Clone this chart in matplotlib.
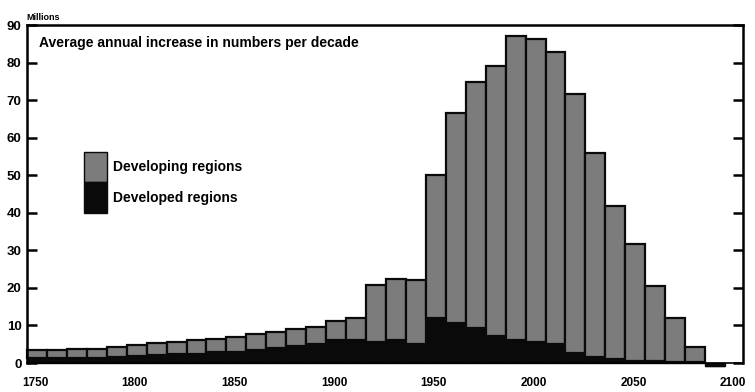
import matplotlib
matplotlib.use("Agg")
import matplotlib.pyplot as plt
import matplotlib.transforms as mtransforms
from matplotlib.patches import Patch
import numpy as np

plt.rcParams['font.family'] = ['Liberation Sans', 'DejaVu Sans']
plt.rcParams['font.weight'] = 'bold'

# decade start years, 1750s ... 2090s
decades = list(range(1750, 2100, 10))

# total average annual increase per decade (millions)
total = [3.5, 3.5, 3.6, 3.8, 4.2, 4.8, 5.3, 5.6, 6.0, 6.3,
         6.9, 7.7, 8.2, 9.0, 9.5, 11.1, 12.0, 20.7, 22.5, 22.0,
         50.1, 66.6, 74.8, 79.0, 87.0, 86.2, 82.8, 71.6, 56.0, 41.9,
         31.8, 20.5, 12.0, 4.3, -0.8]

# developed regions part (black, bottom of each bar)
developed = [1.2, 1.2, 1.3, 1.4, 1.5, 1.8, 2.0, 2.3, 2.5, 2.8,
             3.0, 3.5, 4.0, 4.5, 5.0, 6.0, 6.0, 5.5, 6.0, 5.0,
             12.0, 10.6, 9.3, 7.2, 6.2, 5.5, 5.0, 2.6, 1.6, 1.0,
             0.6, 0.4, 0.3, 0.2, -0.8]

developing = [t - d for t, d in zip(total, developed)]

yticks = [0, 10, 20, 30, 40, 50, 60, 70, 80, 90]
xticks = [1750, 1800, 1850, 1900, 1950, 2000, 2050, 2100]

gray = '#7c7c7c'
black = '#0a0a0a'

fig = plt.figure(figsize=(7.55, 3.92), dpi=100)
ax = fig.add_axes([27 / 755, 1 - 363 / 392, 716 / 755, 338 / 392])

ax.bar(decades, developed, width=10, align='edge', color=black,
       edgecolor=black, linewidth=1.0, clip_on=False, zorder=2)
ax.bar(decades, developing, width=10, align='edge', bottom=developed,
       color=gray, edgecolor=black, linewidth=1.6, clip_on=False, zorder=2)

ax.set_xlim(1750, 2109)
ax.set_ylim(0, 90)

ax.set_yticks(yticks)
ax.set_yticklabels([str(v) for v in yticks], fontsize=9.5, fontweight='bold')
ax.set_xticks(xticks)
ax.set_xticklabels([str(v) for v in xticks], fontsize=8.5, fontweight='bold')

ax.tick_params(axis='y', direction='in', length=7, width=1.8,
               left=True, right=True, pad=4)
ax.tick_params(axis='x', length=0, pad=10)

# labels sit a little right of the decade marks in the original
shift = mtransforms.ScaledTranslation(8 / 100, 0, fig.dpi_scale_trans)
for lab in ax.get_xticklabels():
    lab.set_transform(lab.get_transform() + shift)

for side in ['left', 'right', 'top']:
    ax.spines[side].set_linewidth(1.8)
ax.spines['bottom'].set_linewidth(1.2)

ax.text(0.017, 0.947, 'Average annual increase in numbers per decade',
        transform=ax.transAxes, fontsize=10, fontweight='bold',
        ha='left', va='center')

fig.text(26 / 755, 1 - 17 / 392, 'Millions', fontsize=6.5,
         fontweight='bold', ha='left', va='center')

handles = [Patch(facecolor=gray, edgecolor=black, linewidth=1.0),
           Patch(facecolor=black, edgecolor=black, linewidth=1.0)]
ax.legend(handles, ['Developing regions', 'Developed regions'],
          loc='upper left', bbox_to_anchor=(0.080, 0.625),
          frameon=False, handlelength=1.6, handleheight=3.0,
          labelspacing=0.0, handletextpad=0.45, borderpad=0.0,
          borderaxespad=0.0, prop={'weight': 'bold', 'size': 10})

fig.savefig('out.png', dpi=100)
